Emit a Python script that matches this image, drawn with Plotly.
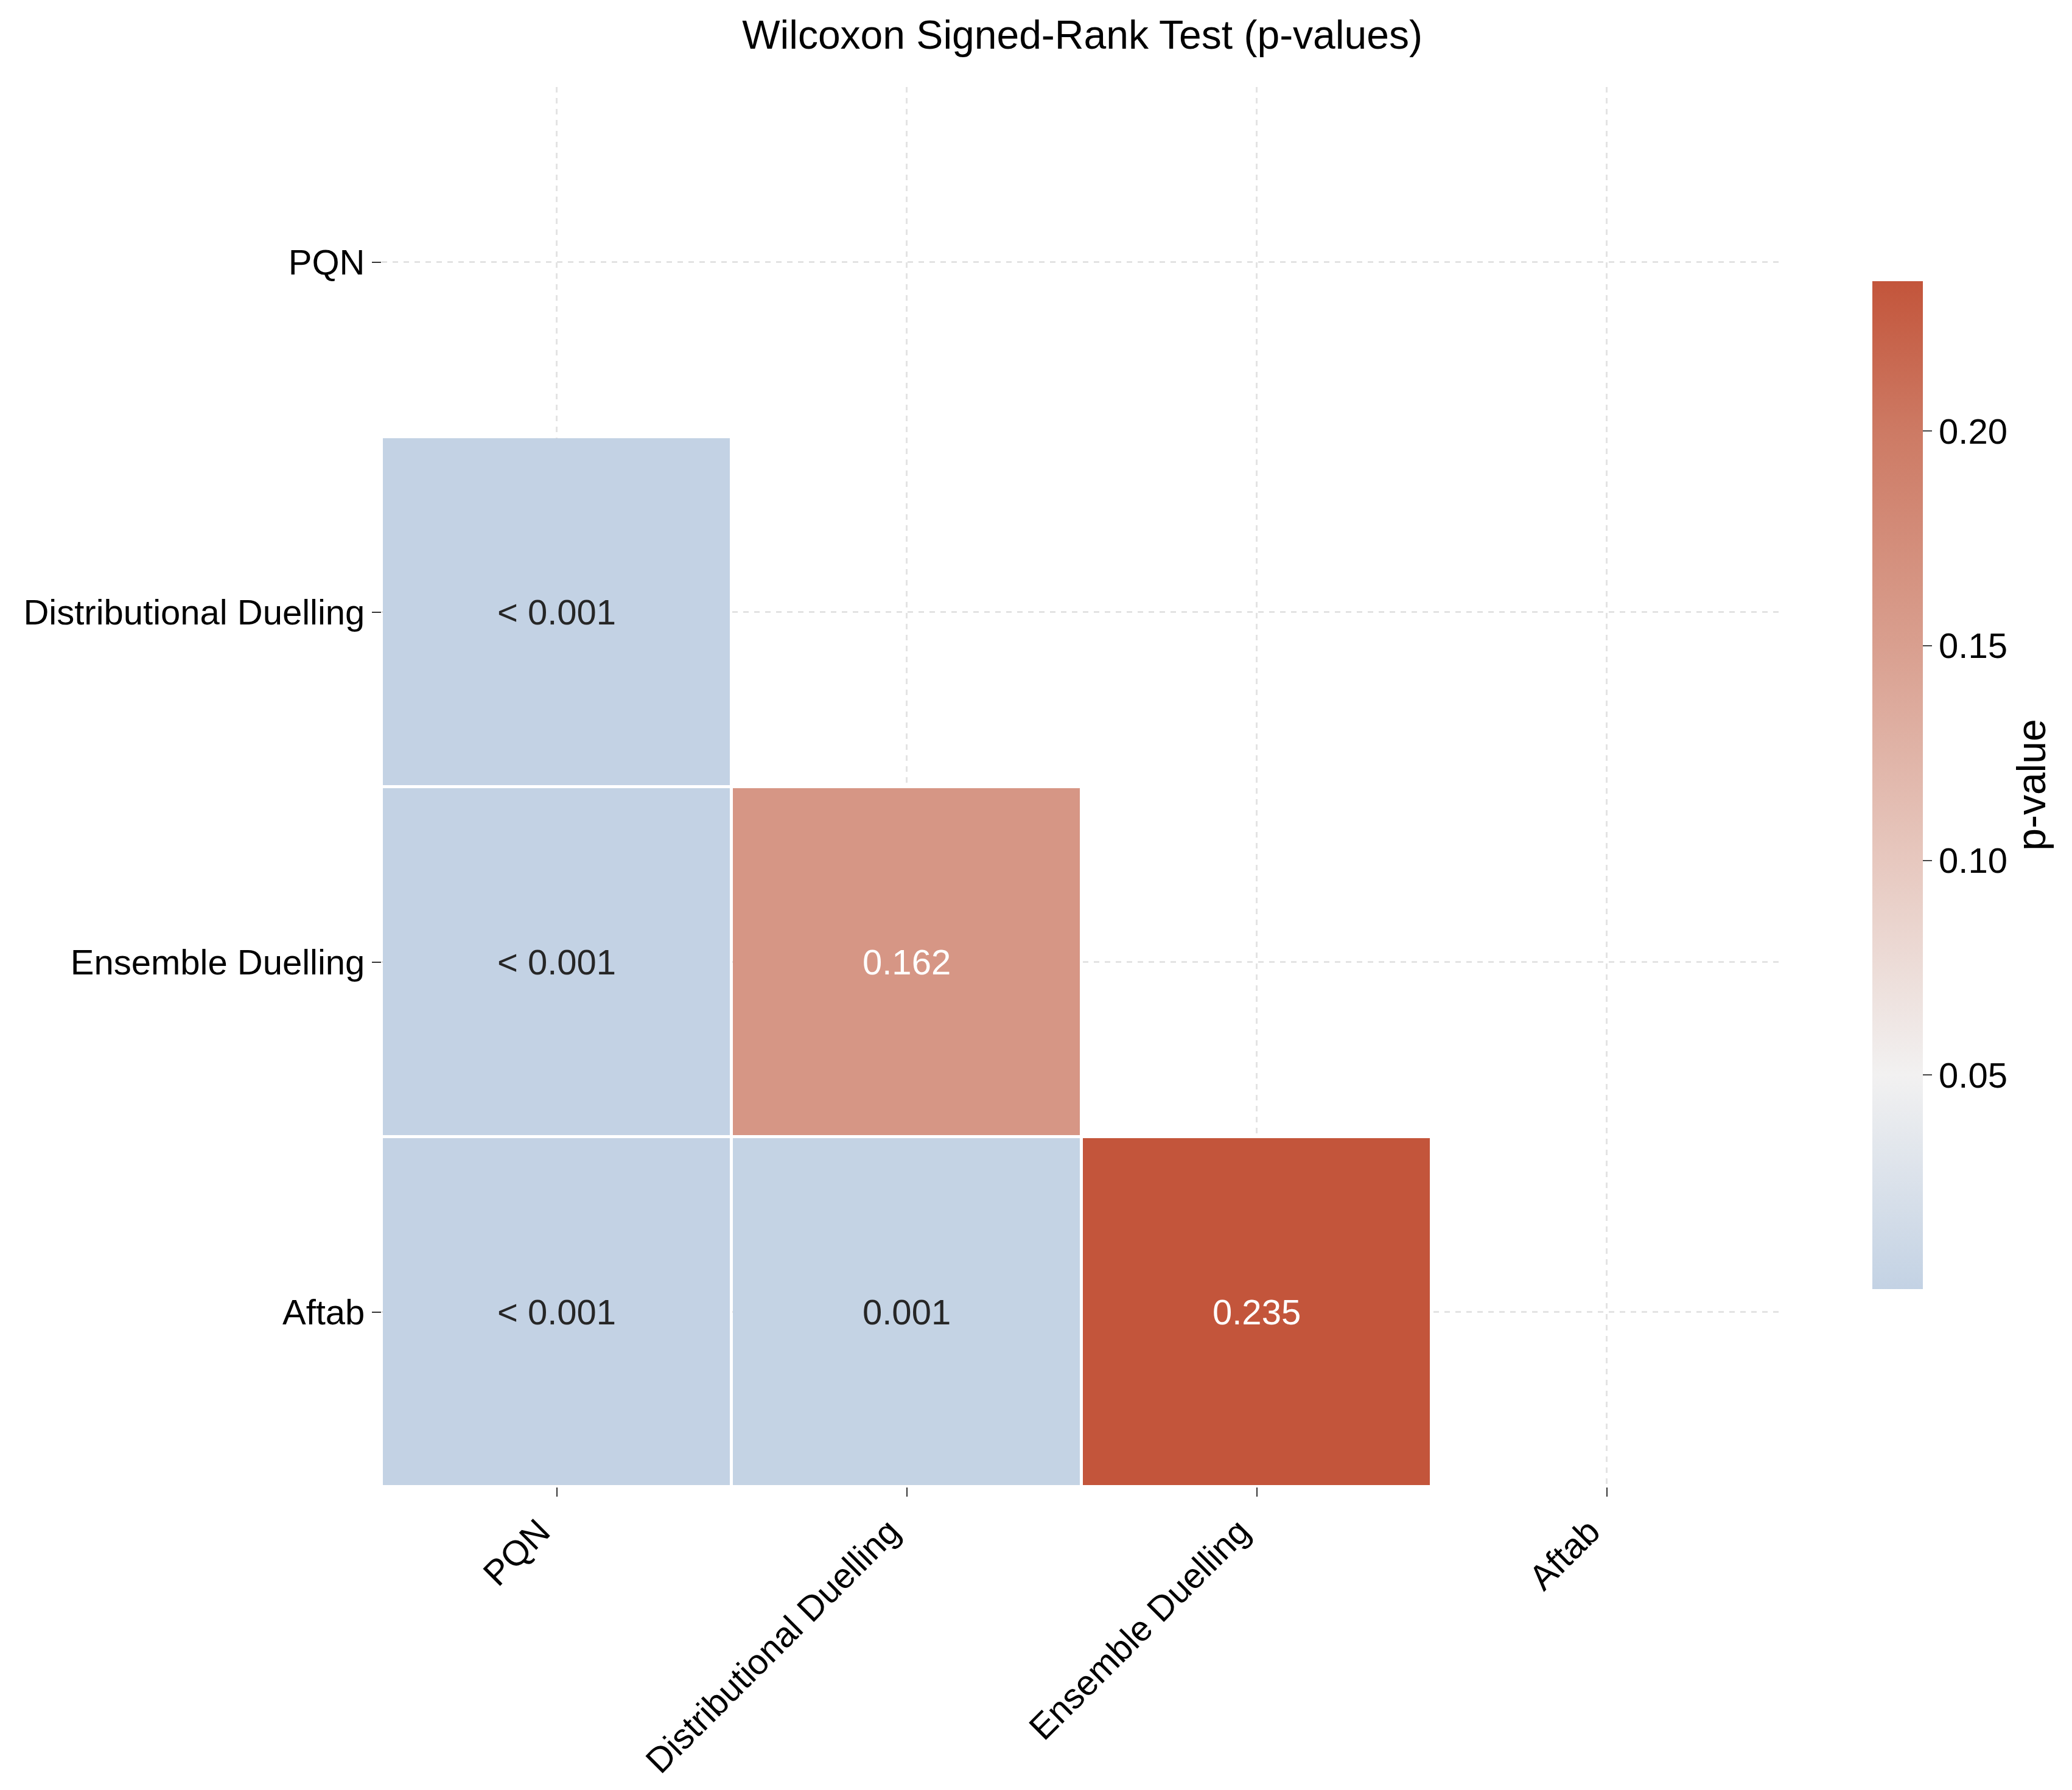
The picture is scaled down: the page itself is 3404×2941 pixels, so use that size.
import plotly.graph_objects as go

# ── Wilcoxon signed-rank p-values, lower triangle only ──
methods = ["PQN", "Distributional Duelling", "Ensemble Duelling", "Aftab"]
p_pqn = [None, 0.0002, 0.0003, 0.0004]
p_dist = [None, None, 0.162, 0.0012]
p_ens = [None, None, None, 0.235]
p_aftab = [None, None, None, None]

cols = [p_pqn, p_dist, p_ens, p_aftab]
z = [[cols[j][i] for j in range(len(methods))] for i in range(len(methods))]

vals = [v for row in z for v in row if v is not None]
zmin, zmax = min(vals), max(vals)

# diverging blue -> light grey (at p=0.05) -> red, anchored in p-value units
stops = [(0.0, "#c3d2e4"), (0.05, "#f2f1f1"), (0.10, "#e7c8bf"),
         (0.15, "#d99f8f"), (0.20, "#cd7a64"), (0.235, "#c3553b")]
colorscale = [[max(0, min(1, (p - zmin) / (zmax - zmin))), c] for p, c in stops]
colorscale[0][0] = 0.0
colorscale[-1][0] = 1.0

font = "Liberation Sans, Helvetica, Arial, sans-serif"

fig = go.Figure(go.Heatmap(
    z=z, x=methods, y=methods, zmin=zmin, zmax=zmax,
    colorscale=colorscale, xgap=5, ygap=5, hoverongaps=False,
    colorbar=dict(
        title=dict(text="p-value", side="right", font=dict(size=66, color="black")),
        tickvals=[0.05, 0.10, 0.15, 0.20], ticktext=["0.05", "0.10", "0.15", "0.20"],
        tickfont=dict(size=58, color="black"), ticks="outside", ticklen=15, tickwidth=2,
        thickness=83, lenmode="pixels", len=1676, x=1.0604, xanchor="left",
        y=0.5015, yanchor="middle", outlinewidth=0,
    ),
))

# cell labels
for i, row in enumerate(z):
    for j, v in enumerate(row):
        if v is None:
            continue
        label = "< 0.001" if v < 0.001 else f"{v:.3f}"
        frac = (v - zmin) / (zmax - zmin)
        fig.add_annotation(x=methods[j], y=methods[i], text=label, showarrow=False,
                           font=dict(size=58, family=font,
                                     color="white" if frac > 0.5 else "#262626"))

fig.update_layout(
    width=3404, height=2941,
    margin=dict(l=619, r=485, t=135, b=506),
    paper_bgcolor="white", plot_bgcolor="white",
    font=dict(family=font, color="black"),
    title=dict(text="Wilcoxon Signed-Rank Test (p-values)", x=0.520, xanchor="center",
               y=0.9834, yanchor="middle", font=dict(size=66, color="black")),
)
fig.update_xaxes(tickangle=-45, tickfont=dict(size=58), ticks="outside", ticklen=15,
                 tickwidth=2, tickcolor="#333333", showgrid=True, gridcolor="#e3e3e3",
                 gridwidth=3, griddash="dash", showline=False, zeroline=False,
                 ticklabelshift=-28)
fig.update_yaxes(autorange="reversed", tickfont=dict(size=58), ticks="outside", ticklen=15,
                 tickwidth=2, tickcolor="#333333", showgrid=True, gridcolor="#e3e3e3",
                 gridwidth=3, griddash="dash", showline=False, zeroline=False)

fig.write_html("out.html")
